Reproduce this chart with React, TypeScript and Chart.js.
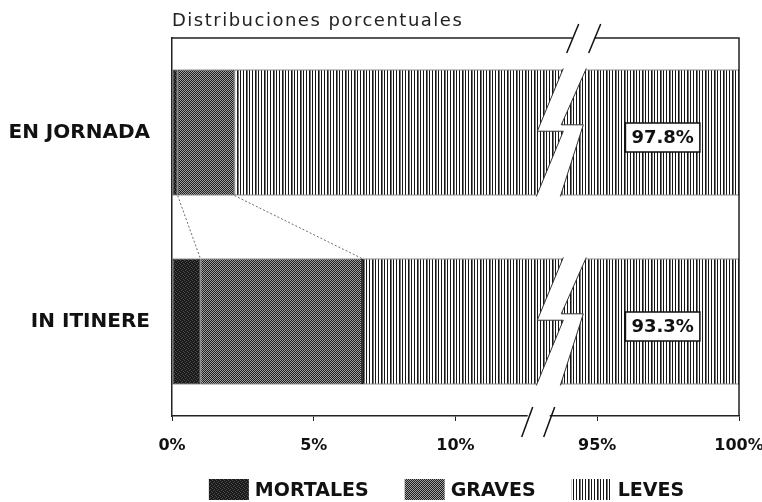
import React, { useEffect, useRef } from "react";
import { Chart, registerables } from "chart.js";

Chart.register(...registerables);

// ---------- data ----------
const TITLE = "Distribuciones porcentuales";
const categories = ["EN JORNADA", "IN ITINERE"];
const seriesLabels = ["MORTALES", "GRAVES", "LEVES"];
const mortales = [0.2, 1.0];
const graves = [2.0, 5.7];
const leves = [97.8, 93.3];
const tickValues = [0, 5, 10, 95, 100];

// ---------- axis break (values above BREAK_FROM are shifted left) ----------
const BREAK_FROM = 50;
const BREAK_SHIFT = 80;
const BREAK_MARK = 12.85; // display value where the zig-zag starts
const toDisplay = (v: number) => (v > BREAK_FROM ? v - BREAK_SHIFT : v);

const FONT = '"DejaVu Sans", "Liberation Sans", Arial, sans-serif';

function makePattern(kind: string): CanvasPattern | string {
  const c = document.createElement("canvas");
  const g = c.getContext("2d");
  if (!g) return "#555";
  if (kind === "mortales") {
    c.width = 4;
    c.height = 4;
    g.fillStyle = "#1a1a1a";
    g.fillRect(0, 0, 4, 4);
    g.fillStyle = "#4e4e4e";
    [[0, 0], [2, 1], [1, 2], [3, 3]].forEach(([x, y]) => g.fillRect(x, y, 1, 1));
  } else if (kind === "graves") {
    c.width = 2;
    c.height = 2;
    g.fillStyle = "#1c1c1c";
    g.fillRect(0, 0, 2, 2);
    g.fillStyle = "#a0a0a0";
    g.fillRect(0, 0, 1, 1);
    g.fillRect(1, 1, 1, 1);
  } else {
    c.width = 9;
    c.height = 1;
    g.fillStyle = "#ffffff";
    g.fillRect(0, 0, 9, 1);
    g.fillStyle = "#161616";
    g.fillRect(0, 0, 1, 1);
    g.fillRect(3, 0, 1, 1);
    g.fillRect(6, 0, 1, 1);
    g.fillStyle = "#777";
    g.fillRect(4, 0, 1, 1);
  }
  return g.createPattern(c, "repeat") || "#555";
}

const decorations = {
  id: "decorations",
  afterDatasetsDraw(chart: any) {
    const { ctx, chartArea: ca, scales } = chart;
    const xs = scales.x;
    const bx = xs.getPixelForValue(BREAK_MARK);
    const series = [mortales, graves, leves];
    const metaL = chart.getDatasetMeta(2);
    ctx.save();

    // frame: top and right edges
    ctx.strokeStyle = "#222";
    ctx.lineWidth = 1.5;
    ctx.beginPath();
    ctx.moveTo(ca.left, ca.top);
    ctx.lineTo(ca.right, ca.top);
    ctx.lineTo(ca.right, ca.bottom);
    ctx.stroke();

    // connector lines between the two bars (segment ends)
    const bars = categories.map((_, ci) => metaL.data[ci].getProps(["y", "height"], true));
    ctx.strokeStyle = "#6a6a6a";
    ctx.lineWidth = 1;
    ctx.setLineDash([2, 2]);
    for (let si = 0; si < 2; si++) {
      const cum = (ci: number) => series.slice(0, si + 1).reduce((s, a) => s + a[ci], 0);
      ctx.beginPath();
      ctx.moveTo(xs.getPixelForValue(toDisplay(cum(0))), bars[0].y + bars[0].height / 2);
      ctx.lineTo(xs.getPixelForValue(toDisplay(cum(1))), bars[1].y - bars[1].height / 2);
      ctx.stroke();
    }
    ctx.setLineDash([]);

    // zig-zag break through each bar
    bars.forEach((b: any) => {
      const yt = b.y - b.height / 2 - 1;
      const h = b.height + 2;
      const P = [
        [27, 0], [50, 0], [25, 0.44], [47, 0.44],
        [24, 1], [0, 1], [27, 0.49], [1, 0.49],
      ].map(([dx, f]) => [bx + dx, yt + f * h]);
      ctx.fillStyle = "#fff";
      ctx.beginPath();
      P.forEach(([px, py], k) => (k ? ctx.lineTo(px, py) : ctx.moveTo(px, py)));
      ctx.closePath();
      ctx.fill();
      ctx.strokeStyle = "#333";
      ctx.lineWidth = 1;
      ctx.beginPath();
      ctx.moveTo(P[1][0], P[1][1]);
      ctx.lineTo(P[2][0], P[2][1]);
      ctx.lineTo(P[3][0], P[3][1]);
      ctx.lineTo(P[4][0], P[4][1]);
      ctx.moveTo(P[5][0], P[5][1]);
      ctx.lineTo(P[6][0], P[6][1]);
      ctx.lineTo(P[7][0], P[7][1]);
      ctx.lineTo(P[0][0], P[0][1]);
      ctx.stroke();
    });

    // break marks on the top frame and on the axis
    const slashes = (y0: number, gapX: number, x1: number, dyTop: number, x2: number, dyBot: number) => {
      ctx.fillStyle = "#fff";
      ctx.fillRect(bx + gapX, y0 - 2.5, 22, 5);
      ctx.strokeStyle = "#111";
      ctx.lineWidth = 1.5;
      [0, 22].forEach((off) => {
        ctx.beginPath();
        ctx.moveTo(bx + x1 + off, y0 + dyTop);
        ctx.lineTo(bx + x2 + off, y0 + dyBot);
        ctx.stroke();
      });
    };
    slashes(ca.top, 36, 42.4, -14, 30.4, 15);
    slashes(ca.bottom, -8.6, -3.6, -9, -14.6, 21);

    // value labels for LEVES
    ctx.font = `bold 18px ${FONT}`;
    ctx.textAlign = "center";
    ctx.textBaseline = "middle";
    bars.forEach((b: any, ci: number) => {
      const total = series.reduce((s, a) => s + a[ci], 0);
      const xEnd = xs.getPixelForValue(toDisplay(total));
      const cx = (bx + 50 + xEnd) / 2;
      const cy = b.y + 5;
      const text = `${leves[ci].toFixed(1)}%`;
      const w = ctx.measureText(text).width + 12;
      const hh = 29;
      ctx.fillStyle = "#fff";
      ctx.fillRect(cx - w / 2, cy - hh / 2, w, hh);
      ctx.strokeStyle = "#111";
      ctx.lineWidth = 1.5;
      ctx.strokeRect(cx - w / 2, cy - hh / 2, w, hh);
      ctx.fillStyle = "#111";
      ctx.fillText(text, cx, cy + 1);
    });
    ctx.restore();
  },
  afterDraw(chart: any) {
    const { ctx, chartArea: ca } = chart;
    ctx.save();
    // title
    ctx.font = `18px ${FONT}`;
    (ctx as any).letterSpacing = "1.5px";
    ctx.fillStyle = "#222";
    ctx.textAlign = "left";
    ctx.textBaseline = "alphabetic";
    ctx.fillText(TITLE, ca.left, 26);
    (ctx as any).letterSpacing = "0px";

    // legend
    ctx.font = `bold 19px ${FONT}`;
    const boxW = 40, boxH = 21, gap = 6, spacing = 36;
    const items = chart.data.datasets.map((ds: any) => ({
      text: ds.label,
      fill: ds.backgroundColor,
      w: ctx.measureText(ds.label).width,
    }));
    const total = items.reduce((s: number, it: any) => s + boxW + gap + it.w, 0) + spacing * (items.length - 1);
    let lx = (ca.left + ca.right) / 2 - 9 - total / 2;
    const ly = chart.height - 23;
    ctx.textAlign = "left";
    ctx.textBaseline = "middle";
    items.forEach((it: any) => {
      ctx.fillStyle = it.fill;
      ctx.fillRect(lx, ly, boxW, boxH);
      ctx.fillStyle = "#111";
      ctx.fillText(it.text, lx + boxW + gap, ly + boxH / 2 + 2);
      lx += boxW + gap + it.w + spacing;
    });
    ctx.restore();
  },
};

export default function App() {
  const ref = useRef<HTMLCanvasElement | null>(null);

  useEffect(() => {
    if (!ref.current) return;
    const fills = [makePattern("mortales"), makePattern("graves"), makePattern("leves")];
    const series = [mortales, graves, leves];
    const datasets = series.map((vals, si) => ({
      label: seriesLabels[si],
      data: vals.map((v, ci) => {
        const start = series.slice(0, si).reduce((s, a) => s + a[ci], 0);
        return [toDisplay(start), toDisplay(start + v)];
      }),
      backgroundColor: fills[si],
      borderColor: "#1a1a1a",
      borderWidth: 1,
      borderSkipped: false,
      categoryPercentage: 1,
      barPercentage: 0.667,
    }));

    const chart = new Chart(ref.current, {
      type: "bar",
      data: { labels: categories, datasets: datasets as any },
      options: {
        indexAxis: "y",
        responsive: false,
        animation: false,
        layout: { padding: { left: 0, right: 23, top: 38, bottom: 0 } },
        plugins: {
          legend: { display: false },
          title: { display: false },
          tooltip: { enabled: false },
        },
        scales: {
          x: {
            type: "linear",
            min: 0,
            max: toDisplay(100),
            afterBuildTicks: (s: any) => {
              s.ticks = tickValues.map((v) => ({ value: toDisplay(v) }));
            },
            afterFit: (s: any) => {
              s.height = 86;
              s.paddingLeft = 0;
              s.paddingRight = 0;
            },
            grid: { drawOnChartArea: false, drawTicks: true, tickLength: 5, color: "#222", lineWidth: 1 },
            border: { display: true, color: "#222", width: 1.5 },
            ticks: {
              padding: 15,
              color: "#111",
              autoSkip: false,
              maxRotation: 0,
              font: { family: FONT, size: 16, weight: "bold" },
              callback: (_v: any, i: number) => `${tickValues[i]}%`,
            },
          },
          y: {
            stacked: true,
            afterFit: (s: any) => {
              s.width = 172;
              s.paddingTop = 0;
              s.paddingBottom = 0;
            },
            grid: { display: false, drawTicks: false },
            border: { display: true, color: "#222", width: 1.5 },
            ticks: {
              padding: 22,
              color: "#111",
              font: { family: FONT, size: 20, weight: "bold" },
            },
          },
        } as any,
      },
      plugins: [decorations as any],
    });
    return () => chart.destroy();
  }, []);

  return (
    <div style={{ position: "absolute", left: 0, top: 0, width: 762, height: 502, background: "#fff" }}>
      <canvas ref={ref} width={762} height={502} style={{ display: "block" }} />
    </div>
  );
}
